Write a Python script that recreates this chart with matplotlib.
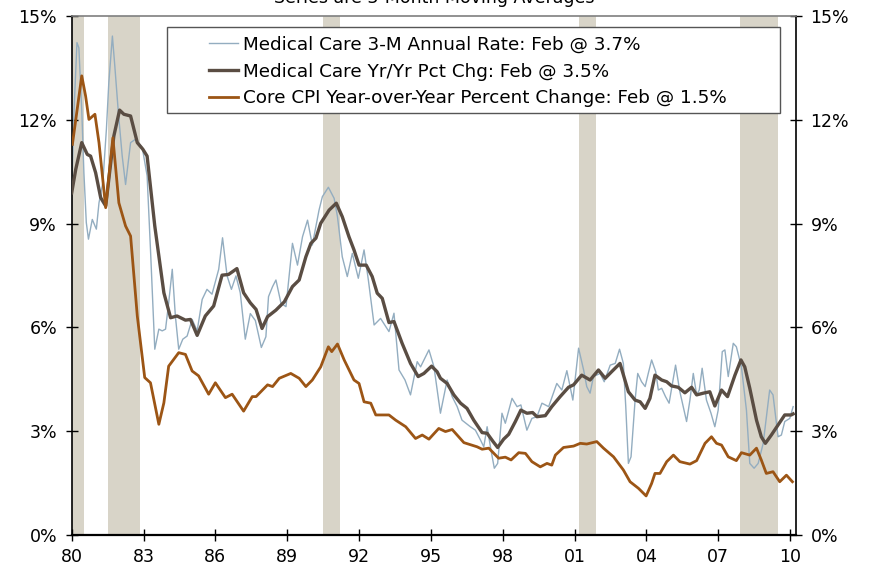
import matplotlib
matplotlib.use("Agg")
import matplotlib.pyplot as plt
from matplotlib.patches import Rectangle

# years since 1980 / values in percent
blue_t = [0.0, 0.10, 0.22, 0.30, 0.42, 0.51, 0.61, 0.70, 0.86, 1.03, 1.14, 1.30, 1.45, 1.55, 1.70,
          1.80, 1.95, 2.11, 2.25, 2.46, 2.67, 2.95, 3.15, 3.29, 3.47, 3.64, 3.78, 3.92, 4.05, 4.20,
          4.33, 4.47, 4.64, 4.82, 5.03, 5.24, 5.45, 5.65, 5.86, 6.14, 6.30, 6.49, 6.67, 6.86, 7.04,
          7.25, 7.46, 7.67, 7.92, 8.11, 8.22, 8.39, 8.53, 8.74, 8.95, 9.22, 9.43, 9.64, 9.85, 10.05,
          10.33, 10.47, 10.72, 10.96, 11.10, 11.30, 11.51, 11.72, 11.97, 12.21, 12.39, 12.63, 12.90,
          13.25, 13.46, 13.67, 13.92, 14.15, 14.43, 14.57, 14.92, 15.13, 15.40, 15.68, 15.89, 16.10,
          16.30, 16.65, 16.86, 17.07, 17.21, 17.35, 17.51, 17.65, 17.79, 17.97, 18.11, 18.39, 18.60,
          18.76, 19.01, 19.22, 19.43, 19.64, 19.92, 20.26, 20.47, 20.68, 20.93, 21.17, 21.38, 21.51,
          21.65, 21.79, 22.07, 22.24, 22.49, 22.70, 22.88, 23.04, 23.14, 23.25, 23.36, 23.53, 23.64,
          23.80, 23.95, 24.08, 24.22, 24.39, 24.50, 24.64, 24.80, 24.95, 25.22, 25.40, 25.68, 25.82,
          25.96, 26.10, 26.21, 26.33, 26.51, 26.70, 26.86, 27.00, 27.17, 27.28, 27.42, 27.63, 27.76,
          27.97, 28.18, 28.32, 28.50, 28.67, 28.88, 29.15, 29.29, 29.50, 29.64, 29.78, 29.99, 30.13]
blue_v = [10.0, 12.3, 14.23, 14.08, 12.3, 10.47, 9.03, 8.55, 9.12, 8.84, 9.6, 10.18, 11.73, 13.07, 14.42,
          13.56, 12.2, 10.95, 10.13, 11.34, 11.44, 11.19, 10.38, 8.26, 5.37, 5.95, 5.90, 5.95, 6.71, 7.68,
          6.33, 5.37, 5.66, 5.75, 6.23, 5.90, 6.81, 7.10, 6.96, 7.68, 8.59, 7.49, 7.10, 7.49, 7.0,
          5.66, 6.4, 6.2, 5.42, 5.73, 6.89, 7.18, 7.37, 6.70, 6.6, 8.43, 7.8, 8.62, 9.10, 8.38,
          9.39, 9.78, 10.05, 9.73, 9.2, 8.04, 7.47, 8.14, 7.42, 8.24, 7.37, 6.07, 6.26,
          5.88, 6.41, 4.77, 4.48, 4.05, 5.01, 4.86, 5.35, 4.86, 3.52, 4.48, 4.0, 3.71,
          3.32, 3.13, 3.03, 2.75, 2.55, 3.13, 2.46, 1.93, 2.07, 3.52, 3.23, 3.95, 3.71,
          3.76, 3.03, 3.37, 3.42, 3.81, 3.71, 4.38, 4.19, 4.75, 3.90, 5.40, 4.77, 4.29,
          4.10, 4.58, 4.67, 4.43, 4.91, 4.96, 5.37, 4.96, 3.71, 2.07, 2.26, 3.90, 4.67,
          4.43, 4.29, 4.67, 5.06, 4.72, 4.19, 4.24, 4.0, 3.81, 4.91, 4.14, 3.28, 3.90,
          4.67, 4.05, 4.19, 4.82, 3.90, 3.52, 3.13, 3.61, 5.30, 5.35, 4.58, 5.54, 5.44,
          4.86, 3.61, 2.07, 1.93, 2.07, 2.65, 4.19, 4.05, 2.84, 2.89, 3.28, 3.37, 3.71]

brown_t = [0.0, 0.17, 0.42, 0.65, 0.79, 1.0, 1.21, 1.42, 1.76, 2.0, 2.18, 2.46, 2.74, 2.97, 3.15,
           3.47, 3.85, 4.13, 4.40, 4.75, 4.96, 5.24, 5.58, 5.93, 6.28, 6.55, 6.90, 7.18, 7.46, 7.70,
           7.95, 8.18, 8.53, 8.88, 9.22, 9.5, 9.78, 9.99, 10.20, 10.40, 10.75, 11.05, 11.30, 11.58,
           11.79, 12.0, 12.30, 12.55, 12.76, 12.97, 13.25, 13.46, 13.80, 14.15, 14.47, 14.71, 15.03,
           15.26, 15.40, 15.68, 15.96, 16.24, 16.51, 16.79, 17.14, 17.35, 17.60, 17.79, 18.04, 18.25,
           18.53, 18.76, 19.01, 19.25, 19.43, 19.78, 20.05, 20.40, 20.75, 20.96, 21.30, 21.65, 22.0,
           22.28, 22.55, 22.90, 23.25, 23.53, 23.74, 23.95, 24.15, 24.36, 24.64, 24.85, 25.05, 25.33,
           25.61, 25.89, 26.10, 26.38, 26.65, 26.86, 27.14, 27.39, 27.70, 27.95, 28.11, 28.32, 28.60,
           28.80, 28.97, 29.22, 29.50, 29.78, 30.05, 30.13]
brown_v = [9.89, 10.57, 11.34, 11.0, 10.95, 10.47, 9.75, 9.51, 11.53, 12.28, 12.16, 12.11, 11.34, 11.15, 10.95,
           8.93, 7.0, 6.28, 6.33, 6.21, 6.23, 5.77, 6.33, 6.62, 7.51, 7.53, 7.70, 7.0, 6.71, 6.52,
           5.97, 6.31, 6.50, 6.74, 7.18, 7.37, 8.04, 8.43, 8.58, 9.01, 9.39, 9.59, 9.2, 8.62,
           8.24, 7.80, 7.80, 7.47, 6.99, 6.84, 6.14, 6.17, 5.54, 4.96, 4.58, 4.67, 4.88,
           4.72, 4.53, 4.38, 4.05, 3.81, 3.66, 3.32, 2.96, 2.94, 2.70, 2.53, 2.77, 2.91,
           3.28, 3.61, 3.52, 3.54, 3.42, 3.45, 3.71, 4.0, 4.27, 4.34, 4.62, 4.48, 4.77,
           4.53, 4.72, 4.96, 4.14, 3.90, 3.85, 3.66, 3.95, 4.62, 4.48, 4.43, 4.31, 4.27,
           4.11, 4.27, 4.05, 4.10, 4.14, 3.73, 4.19, 4.0, 4.62, 5.06, 4.86, 4.24, 3.32,
           2.84, 2.65, 2.89, 3.18, 3.47, 3.47, 3.5]

core_t = [0.03, 0.42, 0.58, 0.72, 0.97, 1.14, 1.42, 1.72, 1.97, 2.25, 2.46, 2.74, 3.05, 3.29, 3.64,
          3.85, 4.05, 4.47, 4.75, 5.03, 5.30, 5.72, 6.0, 6.42, 6.70, 7.18, 7.54, 7.70, 8.18, 8.39,
          8.67, 9.15, 9.5, 9.78, 10.05, 10.40, 10.72, 10.86, 11.10, 11.38, 11.79, 12.0, 12.21, 12.49,
          12.70, 13.25, 13.53, 13.95, 14.36, 14.64, 14.92, 15.33, 15.61, 15.89, 16.38, 16.93, 17.14,
          17.42, 17.83, 18.11, 18.35, 18.67, 18.95, 19.22, 19.57, 19.85, 20.05, 20.20, 20.54, 20.96,
          21.24, 21.51, 21.93, 22.21, 22.63, 23.04, 23.32, 23.67, 23.99, 24.22, 24.36, 24.57, 24.85,
          25.13, 25.40, 25.82, 26.10, 26.45, 26.72, 26.93, 27.14, 27.42, 27.76, 27.97, 28.32, 28.60,
          28.80, 29.01, 29.29, 29.57, 29.85, 30.10]
core_v = [11.29, 13.27, 12.69, 12.01, 12.16, 11.34, 9.46, 11.48, 9.6, 8.93, 8.64, 6.33, 4.55, 4.4, 3.2,
          3.82, 4.88, 5.27, 5.22, 4.74, 4.6, 4.07, 4.4, 3.97, 4.07, 3.58, 4.0, 4.0, 4.34, 4.29,
          4.53, 4.67, 4.53, 4.29, 4.48, 4.86, 5.44, 5.3, 5.52, 5.06, 4.48, 4.38, 3.85, 3.81,
          3.47, 3.47, 3.32, 3.13, 2.79, 2.89, 2.77, 3.08, 2.99, 3.05, 2.67, 2.55, 2.48,
          2.51, 2.22, 2.25, 2.17, 2.38, 2.36, 2.12, 1.97, 2.07, 2.02, 2.31, 2.53, 2.57,
          2.65, 2.63, 2.70, 2.51, 2.26, 1.88, 1.54, 1.35, 1.13, 1.49, 1.78, 1.78, 2.12,
          2.31, 2.12, 2.05, 2.15, 2.65, 2.84, 2.65, 2.60, 2.26, 2.15, 2.38, 2.31, 2.51,
          2.17, 1.78, 1.83, 1.54, 1.73, 1.54]

recessions = [(1980.0, 1980.5), (1981.5, 1982.85), (1990.5, 1991.2), (2001.17, 2001.9), (2007.92, 2009.5)]

labels = ['Medical Care 3-M Annual Rate: Feb @ 3.7%',
          'Medical Care Yr/Yr Pct Chg: Feb @ 3.5%',
          'Core CPI Year-over-Year Percent Change: Feb @ 1.5%']

xticks = list(range(1980, 2011, 3))
yticks = list(range(0, 16, 3))

plt.rcParams['font.family'] = ['DejaVu Sans']

fig = plt.figure(figsize=(8.69, 5.71), dpi=100)
ax = fig.add_axes([0.0825, 0.063, 0.8335, 0.909])

for a, b in recessions:
    ax.axvspan(a, b, color='#d8d4c8', lw=0, zorder=0)

l1, = ax.plot([1980 + t for t in blue_t], blue_v, color='#93adc0', lw=1.0, zorder=2)
l2, = ax.plot([1980 + t for t in brown_t], brown_v, color='#5a4d43', lw=2.4, zorder=3)
l3, = ax.plot([1980 + t for t in core_t], core_v, color='#9c5515', lw=2.0, zorder=4)

ax.set_xlim(1980, 2010.25)
ax.set_ylim(0, 15)
ax.set_xticks(xticks)
ax.set_xticklabels([str(y)[2:] for y in xticks])
ax.set_yticks(yticks)
ax.set_yticklabels([f'{v}%' for v in yticks])
ax.tick_params(axis='y', direction='inout', length=9, width=1, labelsize=12.5,
               right=True, labelright=True, pad=6)
ax.tick_params(axis='x', direction='inout', length=9, width=1, labelsize=12.5, pad=5)

for s in ['left', 'right']:
    ax.spines[s].set_color('black')
    ax.spines[s].set_linewidth(1.2)
ax.spines['bottom'].set_linewidth(1.6)
ax.spines['top'].set_color('#7f7f7f')
ax.spines['top'].set_linewidth(1.2)

# legend box drawn separately (extra room on the left like the original)
ax.add_patch(Rectangle((0.131, 0.813), 0.847, 0.166, transform=ax.transAxes,
                       facecolor='white', edgecolor='#555555', lw=1.0, zorder=5))
leg = ax.legend([l1, l2, l3], labels, loc='upper left', bbox_to_anchor=(0.19, 0.962),
                frameon=False, fontsize=13.2, handlelength=1.55, handletextpad=0.3,
                labelspacing=0.48, borderpad=0, borderaxespad=0)
leg.set_zorder(6)

fig.text(0.5, 0.995, 'Series are 3-Month Moving Averages', ha='center', va='baseline', fontsize=12.5)

fig.savefig('out.png', dpi=100)
